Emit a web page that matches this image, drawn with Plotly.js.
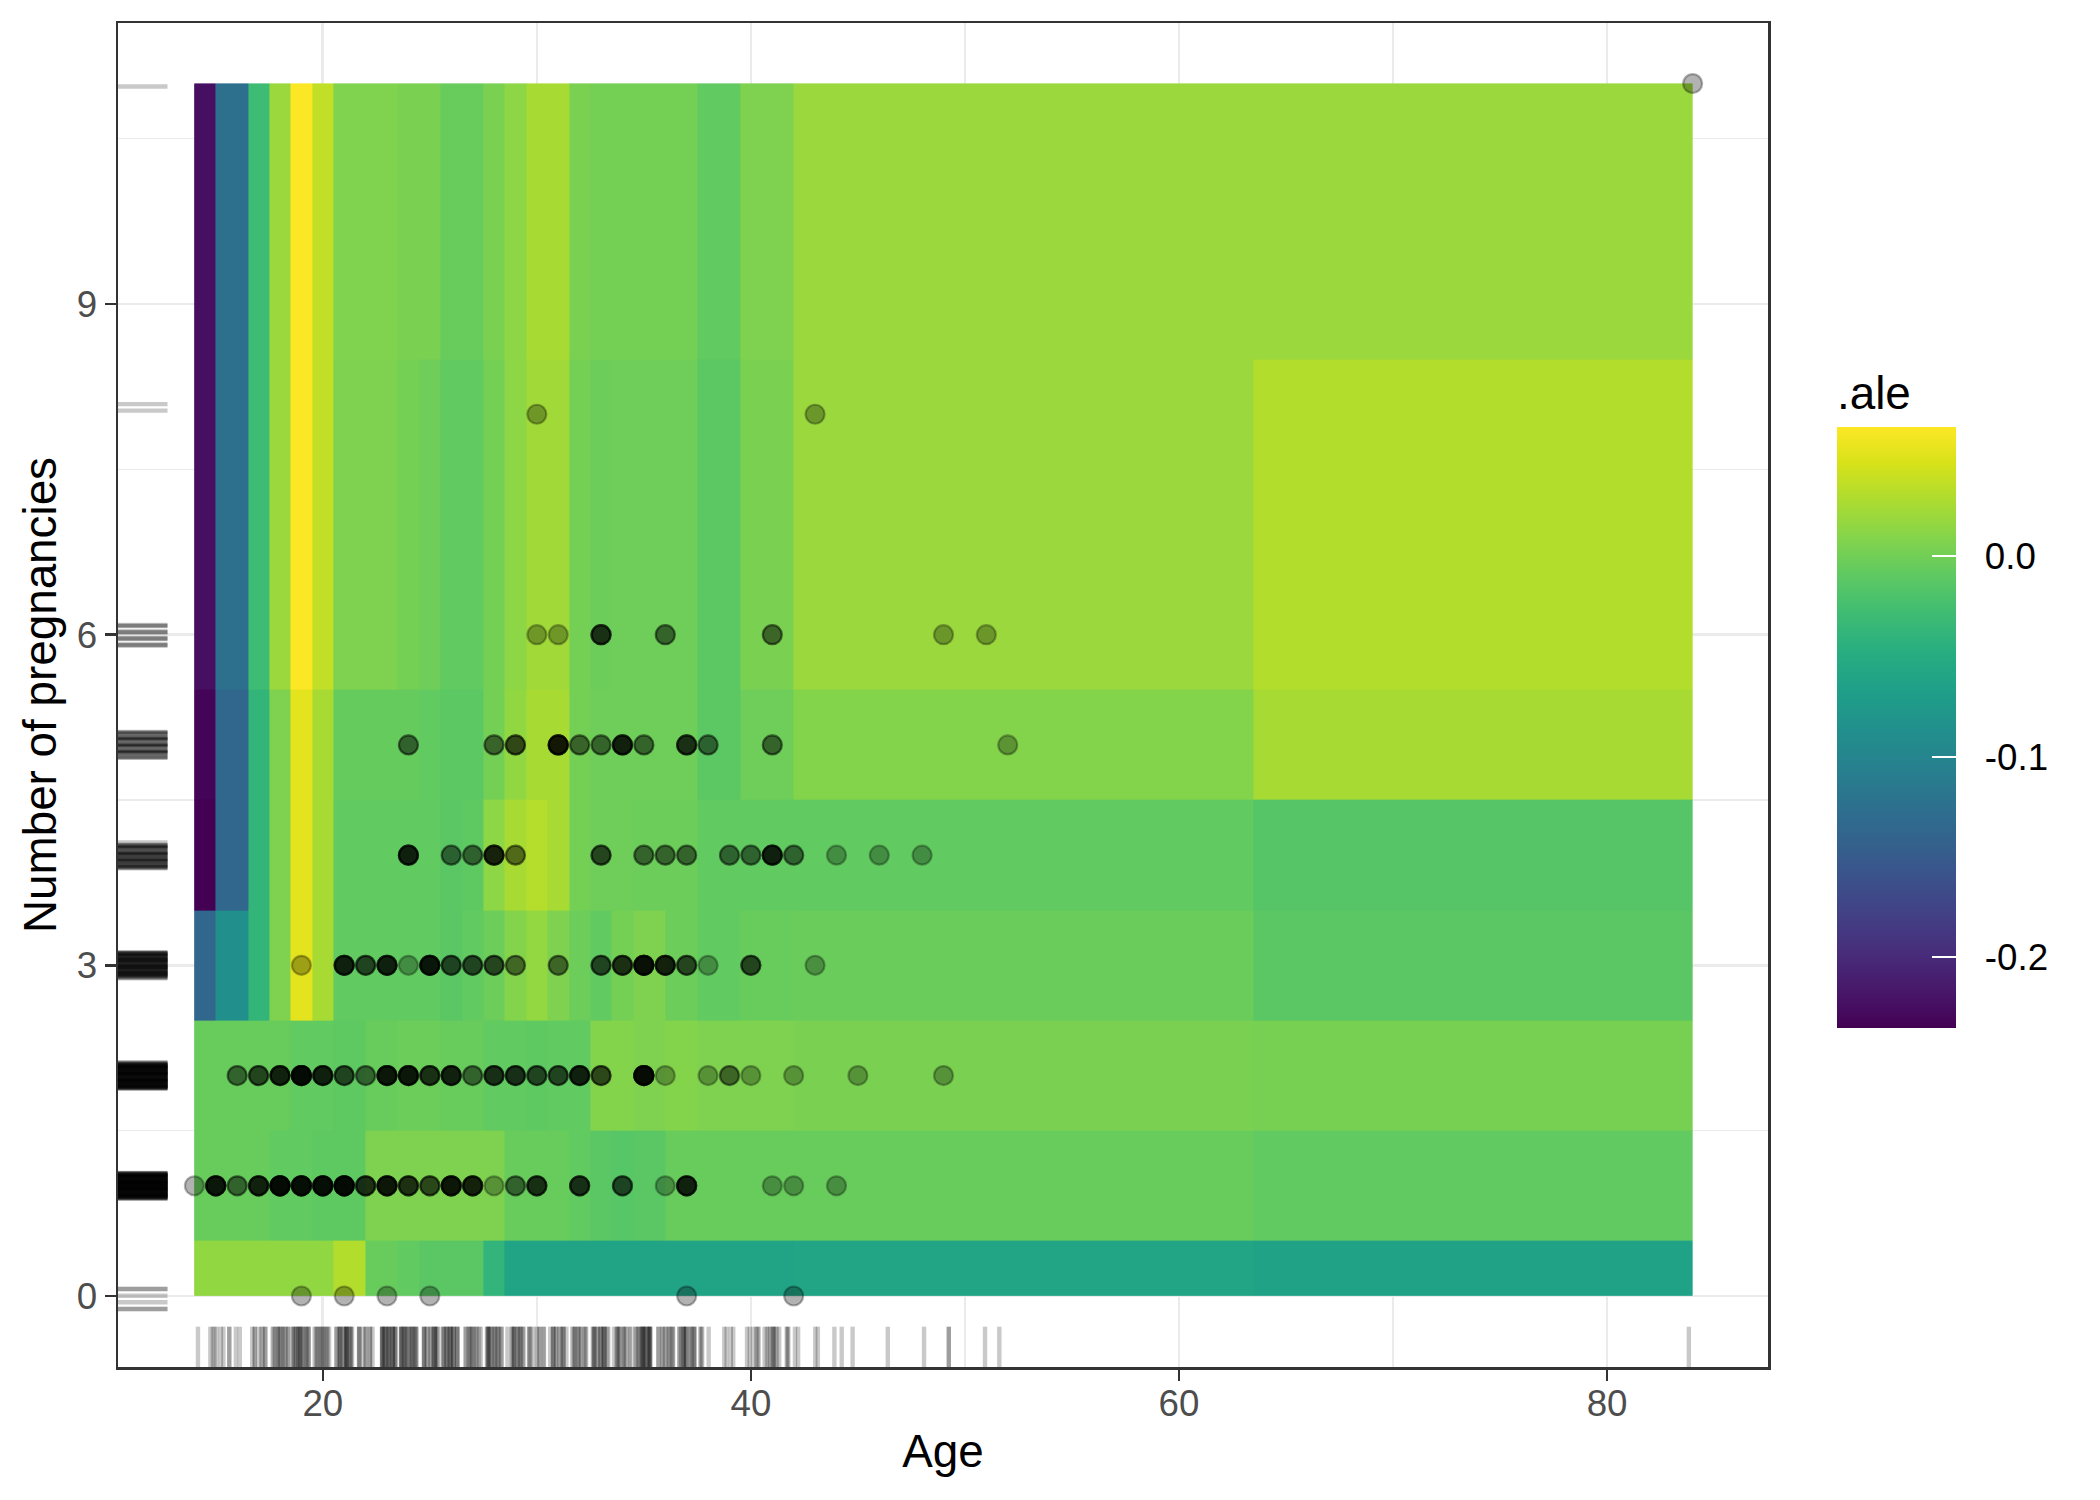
<!DOCTYPE html>
<html>
<head>
<meta charset="utf-8">
<script src="https://cdn.plot.ly/plotly-3.0.1.min.js"></script>
<style>html,body{margin:0;padding:0;background:#fff;}#chart{width:2100px;height:1500px;}</style>
</head>
<body>
<div id="chart"></div>
<script>
// ---- ALE grid (cell edges) ----
const ageEdges = [14, 15, 16.5, 17.5, 18.5, 19.5, 20.5, 22, 23.5, 24.5, 25.5, 26.5, 27.5, 28.5,
                  29.5, 30.5, 31.5, 32.5, 33.5, 34.5, 36, 37.5, 39.5, 42, 63.5, 84];
const pregEdges = [0, 0.5, 1.5, 2.5, 3.5, 4.5, 5.5, 8.5, 11];

// ---- ALE values, one row per pregnancy interval (bottom to top), one value per age interval ----
const ale_p0_05  = [0.015, 0.015, 0.015, 0.015, 0.015, 0.015, 0.030, -0.005, -0.008, -0.012, -0.012, -0.012, -0.039,
                    -0.062, -0.062, -0.062, -0.062, -0.062, -0.062, -0.062, -0.062, -0.062, -0.062, -0.060, -0.063];
const ale_p05_15 = [-0.005, -0.005, -0.005, -0.008, -0.008, -0.009, -0.009, 0.006, 0.006, 0.006, 0.006, 0.006, 0.006,
                    -0.005, -0.005, -0.005, -0.008, -0.012, -0.014, -0.012, -0.005, -0.005, -0.005, -0.005, -0.008];
const ale_p15_25 = [-0.005, -0.005, -0.005, -0.005, -0.008, -0.008, -0.009, -0.005, -0.003, -0.003, -0.005, -0.005, -0.008,
                    -0.008, -0.009, -0.008, -0.008, 0.009, 0.009, 0.006, 0.009, 0.006, 0.006, 0.004, 0.003];
const ale_p25_35 = [-0.137, -0.086, -0.038, 0.006, 0.052, 0.025, -0.008, -0.008, -0.008, -0.008, -0.012, -0.008, -0.003,
                    0.009, 0.016, 0.006, -0.003, -0.008, 0.001, 0.006, -0.003, -0.008, -0.005, -0.004, -0.012];
const ale_p35_45 = [-0.235, -0.137, -0.038, 0.006, 0.052, 0.025, -0.008, -0.008, -0.008, -0.008, -0.012, -0.009, 0.013,
                    0.025, 0.031, 0.025, 0.001, -0.002, -0.002, -0.003, -0.003, -0.008, -0.008, -0.008, -0.015];
const ale_p45_55 = [-0.233, -0.137, -0.038, 0.006, 0.052, 0.025, -0.006, -0.006, -0.006, -0.008, -0.011, -0.011, 0.001,
                    0.015, 0.025, 0.025, 0.001, -0.002, -0.002, -0.002, -0.002, -0.011, -0.002, 0.009, 0.025];
const ale_p55_85 = [-0.224, -0.125, -0.029, 0.019, 0.064, 0.036, 0.006, 0.006, 0.001, -0.002, -0.008, -0.008, 0.001,
                    0.013, 0.022, 0.022, 0.001, -0.003, -0.002, -0.002, -0.002, -0.011, 0.004, 0.019, 0.030];
const ale_p85_11 = [-0.224, -0.125, -0.029, 0.019, 0.064, 0.036, 0.007, 0.007, 0.004, 0.004, -0.005, -0.005, 0.004,
                    0.013, 0.025, 0.025, 0.004, 0.001, 0.001, 0.001, 0.001, -0.008, 0.006, 0.019, 0.019];

// ---- observations: (age, number of pregnancies, how many women) ----
const obsAge = [19,21,23,25,37,42,
  14,15,16,17,18,19,20,21,22,23,24,25,26,27,28,29,30,32,34,36,37,41,42,44,
  16,17,18,19,20,21,22,23,24,25,26,27,28,29,30,31,32,33,35,36,38,39,40,42,45,49,
  19,21,22,23,24,25,26,27,28,29,31,33,34,35,36,37,38,40,43,
  24,26,27,28,29,33,35,36,37,39,40,41,42,44,46,48,
  24,28,29,31,32,33,34,35,37,38,41,52,
  30,31,33,36,41,49,51,
  30,43,
  84];
const obsPreg = [0,0,0,0,0,0,
  1,1,1,1,1,1,1,1,1,1,1,1,1,1,1,1,1,1,1,1,1,1,1,1,
  2,2,2,2,2,2,2,2,2,2,2,2,2,2,2,2,2,2,2,2,2,2,2,2,2,2,
  3,3,3,3,3,3,3,3,3,3,3,3,3,3,3,3,3,3,3,
  4,4,4,4,4,4,4,4,4,4,4,4,4,4,4,4,
  5,5,5,5,5,5,5,5,5,5,5,5,
  6,6,6,6,6,6,6,
  8,8,
  11];
const obsCount = [1,1,1,1,1,1,
  1,6,2,5,8,7,7,8,4,6,4,3,6,5,1,2,4,4,3,1,5,1,1,1,
  2,3,5,8,5,3,2,6,6,4,5,2,4,4,3,3,5,3,8,1,1,2,1,1,1,1,
  1,5,3,5,1,6,3,3,3,2,2,3,4,7,5,3,1,3,1,
  5,2,2,5,2,3,2,2,2,2,2,5,2,1,1,1,
  2,2,3,6,2,2,5,2,4,2,2,1,
  1,1,4,2,2,1,1,
  1,1,
  1];

const xTicks = [20, 40, 60, 80];
const yTicks = [0, 3, 6, 9];
const cbTicks = [-0.2, -0.1, 0.0];
const cbTickText = ['-0.2', '-0.1', '0.0'];

// expand groups into individual observations
const ptX = [], ptY = [];
obsAge.forEach((a, i) => { for (let k = 0; k < obsCount[i]; k++) { ptX.push(a); ptY.push(obsPreg[i]); } });

// rug marks (deterministic stand-in for ggplot's jitter)
const shapes = [];
ptX.forEach((a, i) => {
  const jx = (((i * 0.6180339887) % 1) - 0.5) * 0.8;
  const jy = (((i * 0.7548776662) % 1) - 0.5) * 0.24;
  const lineStyle = {color: 'rgba(0,0,0,0.21)', width: 4.4};
  shapes.push({type: 'line', xref: 'x', yref: 'paper', x0: a + jx, x1: a + jx, y0: 0, y1: 0.03, line: lineStyle, layer: 'above'});
  shapes.push({type: 'line', xref: 'paper', yref: 'y', x0: 0, x1: 0.03, y0: ptY[i] + jy, y1: ptY[i] + jy, line: lineStyle, layer: 'above'});
});

const fontFam = 'Liberation Sans, Arial, sans-serif';
const zGrid = [ale_p0_05, ale_p05_15, ale_p15_25, ale_p25_35, ale_p35_45, ale_p45_55, ale_p55_85, ale_p85_11];
const cbBase = {
  thickness: 119, thicknessmode: 'pixels',
  len: 657, lenmode: 'pixels',
  x: 1.0418, xanchor: 'left', xpad: 0,
  y: 0.2521, yanchor: 'bottom', ypad: 0,
  outlinewidth: 0,
  tickvals: cbTicks, ticktext: cbTickText,
  tickfont: {family: fontFam, size: 36.7, color: '#000'}
};

// heatmap carrying the labelled colour bar
const heatLabels = {
  type: 'heatmap', x: ageEdges, y: pregEdges, z: zGrid,
  colorscale: 'Viridis', zmin: -0.2353, zmax: 0.0643, hoverinfo: 'skip',
  colorbar: Object.assign({}, cbBase, {
    ticks: 'outside', ticklen: 22, tickcolor: 'rgba(0,0,0,0)',
    title: {text: '.ale', side: 'top', font: {family: fontFam, size: 45.8, color: '#000'}}
  })
};
// same heatmap, its colour bar adds the white inner tick marks
const heat = {
  type: 'heatmap', x: ageEdges, y: pregEdges, z: zGrid,
  colorscale: 'Viridis', zmin: -0.2353, zmax: 0.0643, hoverinfo: 'x+y+z',
  colorbar: Object.assign({}, cbBase, {
    ticks: 'inside', ticklen: 24, tickwidth: 2, tickcolor: 'white', showticklabels: false,
    title: {text: '.ale', side: 'top', font: {family: fontFam, size: 45.8, color: 'rgba(0,0,0,0)'}}
  })
};

const pts = {
  type: 'scatter', mode: 'markers',
  x: ptX, y: ptY,
  marker: {size: 19, color: 'rgba(0,0,0,0.3)', line: {color: 'rgba(0,0,0,0.3)', width: 2.2}},
  hoverinfo: 'x+y', showlegend: false
};

const axisFont = {family: fontFam, size: 36.7, color: '#4d4d4d'};
const titleFont = {family: fontFam, size: 45.8, color: '#000'};

const layout = {
  width: 2100, height: 1500,
  margin: {l: 118, r: 332, t: 23, b: 133},
  paper_bgcolor: '#fff', plot_bgcolor: '#fff',
  showlegend: false,
  xaxis: {
    range: [10.43, 87.52], tickvals: xTicks, ticktext: xTicks.map(String),
    ticks: 'outside', ticklen: 11, tickwidth: 2.5, tickcolor: '#333333',
    ticklabelstandoff: -9,
    tickfont: axisFont,
    showgrid: true, gridcolor: '#ebebeb', gridwidth: 2.8,
    minor: {tickvals: [30, 50, 70], showgrid: true, gridcolor: '#ebebeb', gridwidth: 1.4, ticks: ''},
    showline: true, linecolor: '#333333', linewidth: 2.5, mirror: true,
    zeroline: false,
    title: {text: 'Age', font: titleFont, standoff: 13}
  },
  yaxis: {
    range: [-0.644, 11.55], tickvals: yTicks, ticktext: yTicks.map(String),
    ticks: 'outside', ticklen: 11, tickwidth: 2.5, tickcolor: '#333333',
    tickfont: axisFont,
    showgrid: true, gridcolor: '#ebebeb', gridwidth: 2.8,
    minor: {tickvals: [1.5, 4.5, 7.5, 10.5], showgrid: true, gridcolor: '#ebebeb', gridwidth: 1.4, ticks: ''},
    showline: true, linecolor: '#333333', linewidth: 2.5, mirror: true,
    zeroline: false,
    title: {text: 'Number of pregnancies', font: titleFont, standoff: 6}
  },
  shapes: shapes
};

Plotly.newPlot('chart', [heatLabels, heat, pts], layout, {staticPlot: true});
</script>
</body>
</html>
